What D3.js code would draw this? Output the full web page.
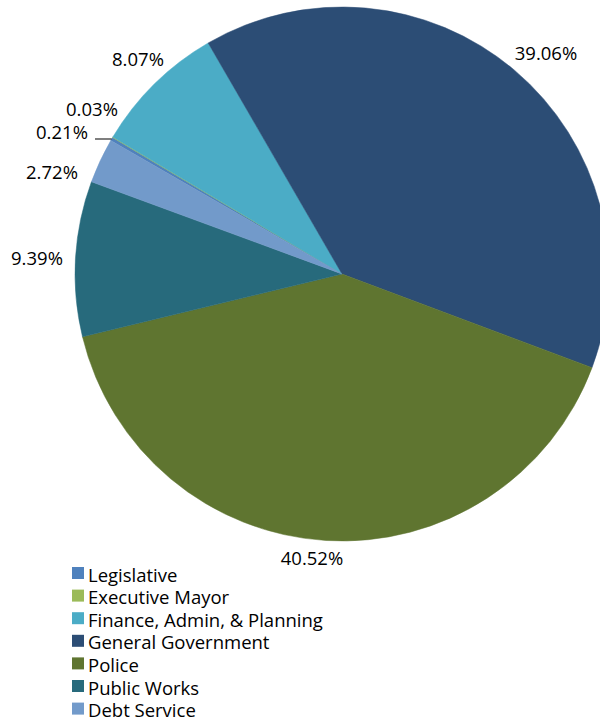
<!DOCTYPE html>
<html>
<head>
<meta charset="utf-8">
<script src="https://cdn.jsdelivr.net/npm/d3@7"></script>
<style>
  html, body { margin: 0; padding: 0; background: #fff; }
  svg { display: block; font-family: "Open Sans", Lato, sans-serif; }
</style>
</head>
<body>
<svg id="chart" width="600" height="721"></svg>
<script>
// Department share of the budget, in percent
const categories = ["Legislative", "Executive Mayor", "Finance, Admin, & Planning",
  "General Government", "Police", "Public Works", "Debt Service"];
const shares = [0.21, 0.03, 8.07, 39.06, 40.52, 9.39, 2.72];
const colors = ["#4F81BD", "#9BBB59", "#4BACC6", "#2C4D75", "#5F7530", "#276A7C", "#729ACA"];

// Label anchor positions (centre of each percent label)
const labelPos = [[62, 131], [92, 108], [138, 58], [546, 52], [312, 557], [37, 257], [52, 171]];

const svg = d3.select("#chart");
const cx = 342, cy = 274, r = 267;
const startDeg = 300;

const data = categories.map((c, i) => ({ name: c, value: shares[i], color: colors[i], pos: labelPos[i] }));

const pie = d3.pie()
  .value(d => d.value)
  .sort(null)
  .startAngle(startDeg * Math.PI / 180)
  .endAngle((startDeg + 360) * Math.PI / 180);

const arc = d3.arc().innerRadius(0).outerRadius(r);
const arcs = pie(data);

const g = svg.append("g").attr("transform", `translate(${cx},${cy})`);
g.selectAll("path.slice")
  .data(arcs)
  .join("path")
  .attr("class", "slice")
  .attr("d", arc)
  .attr("fill", d => d.data.color)
  .attr("stroke", d => d.data.color)
  .attr("stroke-width", 0.5);

// Percent labels
svg.selectAll("text.pct")
  .data(arcs)
  .join("text")
  .attr("class", "pct")
  .attr("x", d => d.data.pos[0])
  .attr("y", d => d.data.pos[1])
  .attr("text-anchor", "middle")
  .attr("dominant-baseline", "central")
  .attr("font-size", 18.5)
  .attr("fill", "#000")
  .text(d => d.data.value.toFixed(2) + "%");

// Leader line for the small Legislative slice
const leg = arcs[0];
const mid = (leg.startAngle + leg.endAngle) / 2;
const ex = cx + Math.sin(mid) * r, ey = cy - Math.cos(mid) * r;
svg.append("polyline")
  .attr("points", `${95},${139} ${ex - 4},${139} ${ex},${ey}`)
  .attr("fill", "none")
  .attr("stroke", "#000")
  .attr("stroke-width", 1.2);

// Legend
const legendX = 72, legendY = 573, rowH = 22.6;
const lg = svg.append("g");
const rows = lg.selectAll("g.row")
  .data(data)
  .join("g")
  .attr("class", "row")
  .attr("transform", (d, i) => `translate(${legendX},${legendY + i * rowH})`);
rows.append("rect")
  .attr("x", 0).attr("y", -6)
  .attr("width", 12).attr("height", 12)
  .attr("fill", d => d.color);
rows.append("text")
  .attr("x", 16).attr("y", 1)
  .attr("dominant-baseline", "central")
  .attr("font-size", 18.5)
  .attr("fill", "#000")
  .text(d => d.name);
</script>
</body>
</html>
